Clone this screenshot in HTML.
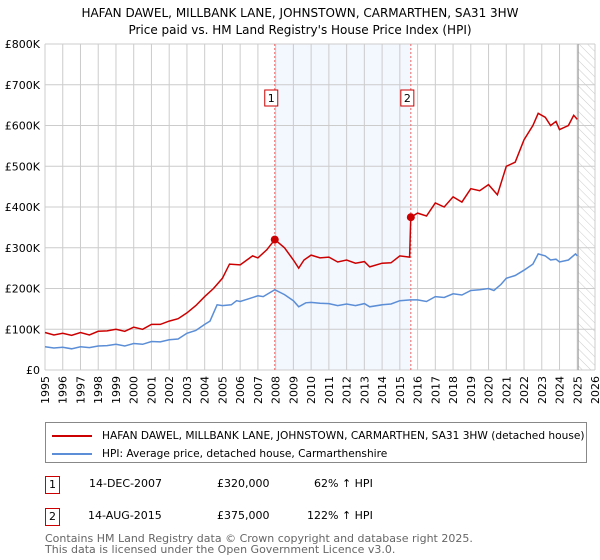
<!DOCTYPE html>
<html><head><meta charset="utf-8">
<style>
body{margin:0;background:#fff;font-family:"DejaVu Sans","Liberation Sans",sans-serif;}
#wrap{position:relative;width:600px;height:560px;overflow:hidden;}
svg text{font-family:"DejaVu Sans","Liberation Sans",sans-serif;}
.abs{position:absolute;font-size:12px;color:#000;white-space:nowrap;}
</style></head><body>
<div id="wrap">
<svg id="chart" width="600" height="420" style="position:absolute;left:0;top:0"></svg>
<div class="abs" style="left:45px;top:422px;width:540px;height:39px;border:1px solid #888;">
  <div style="position:absolute;left:6px;top:5px;"><span style="display:inline-block;width:40px;height:2px;background:#cc0000;vertical-align:middle;margin-right:10px"></span><span style="font-size:10.6px">HAFAN DAWEL, MILLBANK LANE, JOHNSTOWN, CARMARTHEN, SA31 3HW (detached house)</span></div>
  <div style="position:absolute;left:6px;top:23px;"><span style="display:inline-block;width:40px;height:2px;background:#5b8ed6;vertical-align:middle;margin-right:10px"></span><span style="font-size:10.6px">HPI: Average price, detached house, Carmarthenshire</span></div>
</div>
<div class="abs" style="left:45px;top:476px;width:13px;height:16px;border:1px solid #cc0000;text-align:center;line-height:16px;font-size:11px">1</div>
<div class="abs" style="left:89px;top:477px;font-size:11px">14-DEC-2007</div>
<div class="abs" style="left:217px;top:477px;font-size:11px">£320,000</div>
<div class="abs" style="left:314px;top:477px;font-size:11px">62% ↑ HPI</div>
<div class="abs" style="left:45px;top:508px;width:13px;height:16px;border:1px solid #cc0000;text-align:center;line-height:16px;font-size:11px">2</div>
<div class="abs" style="left:88px;top:509px;font-size:11px">14-AUG-2015</div>
<div class="abs" style="left:217px;top:509px;font-size:11px">£375,000</div>
<div class="abs" style="left:307px;top:509px;font-size:11px">122% ↑ HPI</div>
<div class="abs" style="left:45px;top:533px;font-size:11px;color:#666;line-height:11px">Contains HM Land Registry data © Crown copyright and database right 2025.<br>This data is licensed under the Open Government Licence v3.0.</div>
</div>
<script>
const yTicks=[0,100,200,300,400,500,600,700,800];
const yTickLabels=["£0","£100K","£200K","£300K","£400K","£500K","£600K","£700K","£800K"];
const xYears=[1995,1996,1997,1998,1999,2000,2001,2002,2003,2004,2005,2006,2007,2008,2009,2010,2011,2012,2013,2014,2015,2016,2017,2018,2019,2020,2021,2022,2023,2024,2025,2026];
const hpiT=[1995,1995.5,1996,1996.5,1997,1997.5,1998,1998.5,1999,1999.5,2000,2000.5,2001,2001.5,2002,2002.5,2003,2003.5,2004,2004.3,2004.7,2005,2005.5,2005.8,2006,2006.5,2007,2007.3,2007.95,2008.5,2009,2009.3,2009.7,2010,2010.5,2011,2011.5,2012,2012.5,2013,2013.3,2014,2014.5,2015,2015.6,2016,2016.5,2017,2017.5,2018,2018.5,2019,2019.5,2020,2020.3,2020.7,2021,2021.5,2022,2022.5,2022.8,2023.2,2023.5,2023.8,2024,2024.5,2024.9,2025];
const hpiV=[57,54,56,52,57,55,59,60,63,59,65,63,70,69,74,76,90,97,112,120,160,158,160,170,168,175,182,180,197,185,170,155,165,166,164,163,158,162,158,163,155,160,162,170,172,172,168,180,178,187,184,195,197,200,195,210,225,232,245,260,285,280,270,272,265,270,285,280];
const salesT=[1995,1995.5,1996,1996.5,1997,1997.5,1998,1998.5,1999,1999.5,2000,2000.5,2001,2001.5,2002,2002.5,2003,2003.5,2004,2004.5,2005,2005.4,2006,2006.7,2007,2007.5,2007.95,2008.5,2009,2009.3,2009.6,2010,2010.5,2011,2011.5,2012,2012.5,2013,2013.3,2014,2014.5,2015,2015.55,2015.62,2016,2016.5,2017,2017.5,2018,2018.5,2019,2019.5,2020,2020.5,2021,2021.5,2022,2022.5,2022.8,2023.2,2023.5,2023.8,2024,2024.5,2024.8,2025];
const salesV=[92,86,90,85,92,86,95,96,100,95,105,100,112,112,120,126,140,158,180,200,225,260,258,280,275,295,320,300,270,250,270,282,275,277,265,270,262,266,253,262,263,280,277,375,385,378,410,400,425,412,445,440,455,430,500,510,565,600,630,620,600,610,590,600,625,615];
const saleDates=[2007.95,2015.62];
const salePrices=[320,375];
const saleLabels=["1","2"];

const svg=document.getElementById('chart');
const NS='http://www.w3.org/2000/svg';
const X0=45,X1=595,Y0=370,Y1=44;
const xs=t=>X0+(t-1995)/(2026-1995)*(X1-X0);
const ys=v=>Y0-v/800*(Y0-Y1);
function mk(tag,attrs){const e=document.createElementNS(NS,tag);for(const k in attrs)e.setAttribute(k,attrs[k]);svg.appendChild(e);return e;}
let e;
e=mk('text',{x:300,y:17,'text-anchor':'middle','font-size':'12'});e.textContent="HAFAN DAWEL, MILLBANK LANE, JOHNSTOWN, CARMARTHEN, SA31 3HW";


e=mk('text',{x:300,y:34,'text-anchor':'middle','font-size':'12'});e.textContent="Price paid vs. HM Land Registry's House Price Index (HPI)";


e=mk('rect',{x:xs(saleDates[0]),y:Y1,width:xs(saleDates[1])-xs(saleDates[0]),height:Y0-Y1,fill:'#eef3fd',opacity:0.7});


const defs=document.createElementNS(NS,'defs');defs.innerHTML='<pattern id="h" width="6" height="6" patternUnits="userSpaceOnUse" patternTransform="rotate(-45)"><line x1="0" y1="0" x2="0" y2="6" stroke="#ccc" stroke-width="1"/></pattern>';svg.appendChild(defs);
e=mk('rect',{x:xs(2025.05),y:Y1,width:X1-xs(2025.05),height:Y0-Y1,fill:'url(#h)'});


xYears.forEach(y=>{e=mk('line',{x1:xs(y),x2:xs(y),y1:Y1,y2:Y0,stroke:'#ccc','stroke-width':1});


e=mk('text',{transform:`translate(${xs(y)+4},376) rotate(-90)`,'text-anchor':'end','font-size':'11'});e.textContent=y;

});
yTicks.forEach((v,i)=>{e=mk('line',{x1:X0,x2:X1,y1:ys(v),y2:ys(v),stroke:'#ccc','stroke-width':1});


e=mk('text',{x:40,y:ys(v)+4,'text-anchor':'end','font-size':'11'});e.textContent=yTickLabels[i];

});
e=mk('line',{x1:xs(2025.05),x2:xs(2025.05),y1:Y1,y2:Y0,stroke:'#999','stroke-width':1});


saleDates.forEach((d,i)=>{e=mk('line',{x1:xs(d),x2:xs(d),y1:Y1,y2:Y0,stroke:'#e66','stroke-width':1,'stroke-dasharray':'2,2'});


e=mk('rect',{x:xs(d)-10,y:90,width:13,height:16,fill:'#fff',stroke:'#cc0000'});


e=mk('text',{x:xs(d)-3.5,y:102,'text-anchor':'middle','font-size':'11'});e.textContent=saleLabels[i];

});
function path(T,V){return T.map((t,i)=>(i?'L':'M')+xs(t).toFixed(1)+','+ys(V[i]).toFixed(1)).join('');}
e=mk('path',{d:path(hpiT,hpiV),fill:'none',stroke:'#5b8ed6','stroke-width':1.5});


e=mk('path',{d:path(salesT,salesV),fill:'none',stroke:'#cc0000','stroke-width':1.5});


saleDates.forEach((d,i)=>{e=mk('circle',{cx:xs(d),cy:ys(salePrices[i]),r:4,fill:'#cc0000'});

});
</script>
</body></html>
